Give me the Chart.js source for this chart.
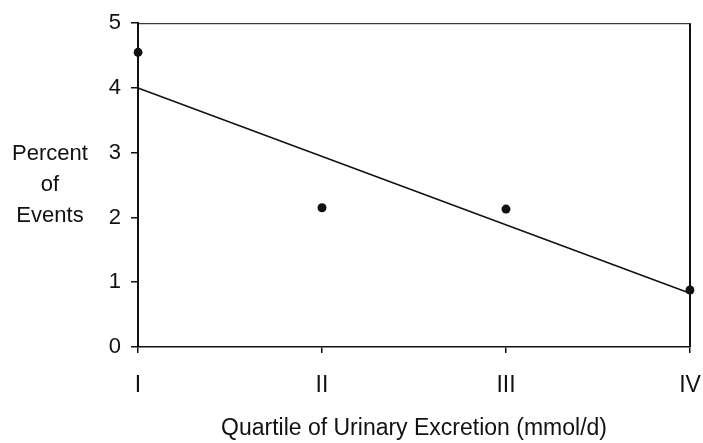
<!DOCTYPE html>
<html>
<head>
<meta charset="utf-8">
<script src="https://cdn.jsdelivr.net/npm/chart.js@4"></script>
<style>
  html, body { margin: 0; padding: 0; background: #fff; }
  #wrap { width: 703px; height: 443px; }
</style>
</head>
<body>
<div id="wrap"><canvas id="chart" width="703" height="443"></canvas></div>
<script>
// Quartiles and observed percent of events
const quartileLabels = ['I', 'II', 'III', 'IV'];
const percentEvents = [4.55, 2.15, 2.13, 0.88];
// fitted trend line: only the two ends are drawn
const trendLine = [4.0, null, null, 0.83];
const yTicks = [0, 1, 2, 3, 4, 5];
const yTitleLines = ['Percent', 'of', 'Events'];
const xTitle = 'Quartile of Urinary Excretion (mmol/d)';

const fontFamily = '"Liberation Sans", Arial, sans-serif';

// y title and the top/right frame lines
const framePlugin = {
    id: 'frame',
    afterDraw(chart) {
        const ctx = chart.ctx;
        const a = chart.chartArea;
        ctx.save();
        ctx.strokeStyle = '#111';
        ctx.lineWidth = 1;
        ctx.beginPath();
        ctx.moveTo(a.left, a.top + 0.5);
        ctx.lineTo(a.right, a.top + 0.5);
        ctx.stroke();
        ctx.lineWidth = 2;
        ctx.beginPath();
        ctx.moveTo(a.right, a.top);
        ctx.lineTo(a.right, a.bottom);
        ctx.stroke();

        ctx.fillStyle = '#111';
        ctx.font = '22px ' + fontFamily;
        ctx.textAlign = 'center';
        ctx.textBaseline = 'middle';
        const mid = chart.scales.y.getPixelForValue(2.5);
        yTitleLines.forEach((line, i) => {
            ctx.fillText(line, 50, mid - 31 + i * 31);
        });
        ctx.restore();
    }
};

new Chart(document.getElementById('chart'), {
    type: 'line',
    data: {
        labels: quartileLabels,
        datasets: [
            {
                label: 'Trend',
                data: trendLine,
                spanGaps: true,
                borderColor: '#111',
                borderWidth: 1.5,
                pointRadius: 0,
                tension: 0,
                fill: false
            },
            {
                label: 'Percent of Events',
                data: percentEvents,
                showLine: false,
                pointRadius: 4.5,
                pointBackgroundColor: '#111',
                pointBorderColor: '#111',
                pointBorderWidth: 0
            }
        ]
    },
    options: {
        responsive: false,
        animation: false,
        layout: { padding: { top: 23, right: 13, left: 0, bottom: 0 } },
        plugins: {
            legend: { display: false },
            tooltip: { enabled: false }
        },
        scales: {
            x: {
                offset: false,
                afterFit: (scale) => {
                    scale.height = 96;
                    scale.paddingLeft = 0;
                    scale.paddingRight = 0;
                },
                grid: {
                    drawOnChartArea: false,
                    drawTicks: true,
                    tickLength: 6,
                    color: '#111',
                    lineWidth: 1.5
                },
                border: { color: '#111', width: 1.5 },
                ticks: {
                    color: '#111',
                    padding: 19,
                    maxRotation: 0,
                    font: { family: fontFamily, size: 23 }
                },
                title: {
                    display: true,
                    text: xTitle,
                    color: '#111',
                    font: { family: fontFamily, size: 23 },
                    padding: { top: 0, bottom: 1 }
                }
            },
            y: {
                min: 0,
                max: 5,
                afterFit: (scale) => { scale.width = 138; },
                afterBuildTicks: (scale) => {
                    scale.ticks = yTicks.map(v => ({ value: v }));
                },
                grid: {
                    drawOnChartArea: false,
                    drawTicks: true,
                    tickLength: 7,
                    color: '#111',
                    lineWidth: 1.5
                },
                border: { color: '#111', width: 2 },
                ticks: {
                    color: '#111',
                    padding: 10,
                    font: { family: fontFamily, size: 22 }
                }
            }
        }
    },
    plugins: [framePlugin]
});
</script>
</body>
</html>
